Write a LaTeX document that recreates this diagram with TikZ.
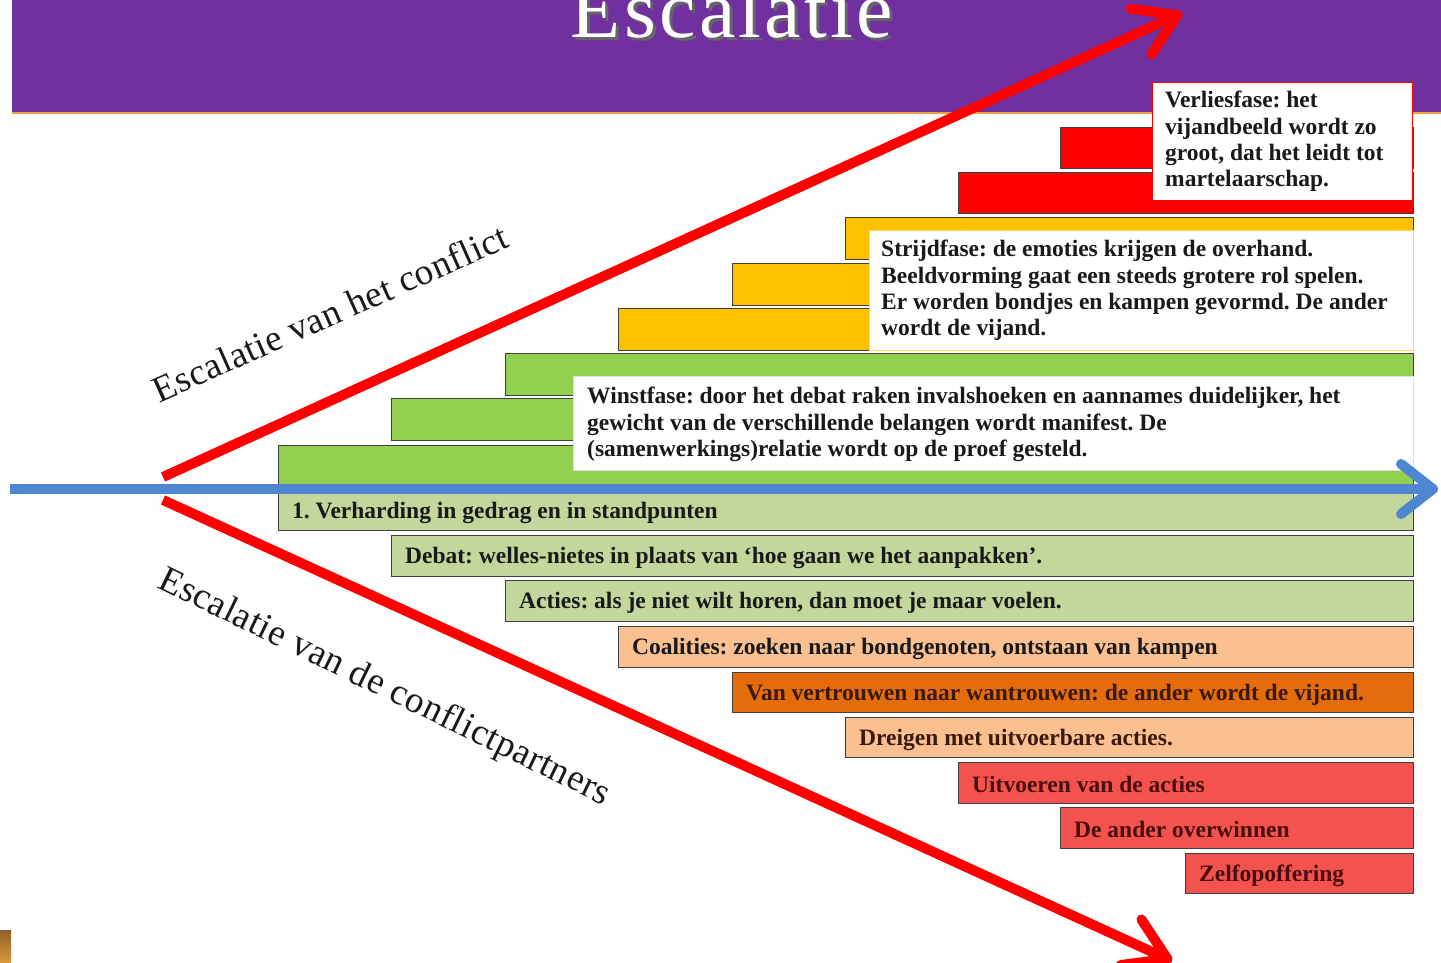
\documentclass[tikz,border=0pt]{standalone}
\usepackage{fontspec}
\setmainfont{Liberation Serif}
\newfontfamily\labelfont[LetterSpace=1.5]{Liberation Serif}
\newfontfamily\titlefont[LetterSpace=4]{Liberation Serif}
\usetikzlibrary{positioning, arrows.meta}
\frenchspacing

\definecolor{headpurple}{HTML}{7030A0}
\definecolor{headgold}{HTML}{E8A33C}
\definecolor{winst}{HTML}{92D050}
\definecolor{strijd}{HTML}{FFC000}
\definecolor{verlies}{HTML}{FF0000}
\definecolor{palegreen}{HTML}{C3D69B}
\definecolor{paleorange}{HTML}{FAC090}
\definecolor{deeporange}{HTML}{E46C0A}
\definecolor{salmon}{HTML}{F4524F}
\definecolor{axisblue}{HTML}{4F86D2}
\definecolor{darkbrown}{HTML}{3A1A0C}
\definecolor{darkmaroon}{HTML}{4A0E0E}

\tikzset{
  stage/.style={draw=black!75, line width=0.9pt, anchor=north west, inner sep=0pt, minimum height=41pt},
  stagetext/.style={font=\bfseries\fontsize{23.5}{26.3}\selectfont, inner sep=0pt, text=black!90},
  phasebox/.style={fill=white, line width=1pt, anchor=north west, inner sep=0pt},
  phasetext/.style={stagetext, align=left},
  redarrow/.style={draw=verlies, line width=10pt, -{Straight Barb[length=40pt, width=50pt, round]}},
  axisarrow/.style={draw=axisblue, line width=10pt, -{Straight Barb[length=32pt, width=50pt, round]}},
  slantlabel/.style={font=\labelfont\fontsize{37}{40}\selectfont, text=black!90, inner sep=0pt},
  titletext/.style={font=\titlefont\fontsize{82}{90}\selectfont, anchor=base, inner sep=0pt}
}

\begin{document}
\begin{tikzpicture}[x=1pt, y=-1pt]
\useasboundingbox (0,0) rectangle (1441,963);
\clip (0,0) rectangle (1441,963);

% header
\fill[headpurple] (12,0) rectangle (1441,113);
\draw[headgold, line width=2pt] (12,113) -- (1441,113);
\node[titletext, text=black!60] (titleshadow) at (735,41) {Escalatie};
\node[titletext, text=white] (title) at (732,38) {Escalatie};

% upper stairs
\node[stage, fill=winst, minimum width=1135pt, minimum height=44pt] (g1) at (278,445) {};
\node[stage, fill=winst, minimum width=1022pt, minimum height=42pt] (g2) at (391,398) {};
\node[stage, fill=winst, minimum width=908pt, minimum height=42pt] (g3) at (505,353) {};
\node[stage, fill=strijd, minimum width=795pt, minimum height=42pt] (y1) at (618,308) {};
\node[stage, fill=strijd, minimum width=681pt, minimum height=42pt] (y2) at (732,263) {};
\node[stage, fill=strijd, minimum width=568pt, minimum height=42pt] (y3) at (845,217) {};
\node[stage, fill=verlies, minimum width=455pt] (r1) at (958,172) {};
\node[stage, fill=verlies, minimum width=353pt] (r2) at (1060,127) {};

% phase boxes
\node[phasebox, draw=gray!25, minimum width=840pt, minimum height=94pt] (ww) at (573,376) {};
\node[phasebox, draw=strijd!60, minimum width=544pt, minimum height=120pt] (ws) at (869,230) {};
\node[phasebox, draw=verlies, minimum width=260pt, minimum height=118pt] (wv) at (1152,82) {};
\node[phasetext, below right=11pt and 14pt of ww.north west] (tw)
  {Winstfase: door het debat raken invalshoeken en aannames duidelijker, het\\
   gewicht van de verschillende belangen wordt manifest. De\\
   (samenwerkings)relatie wordt op de proef gesteld.};
\node[phasetext, below right=10pt and 12pt of ws.north west] (ts)
  {Strijdfase: de emoties krijgen de overhand.\\
   Beeldvorming gaat een steeds grotere rol spelen.\\
   Er worden bondjes en kampen gevormd. De ander\\
   wordt de vijand.};
\node[phasetext, below right=9pt and 13pt of wv.north west] (tv)
  {Verliesfase: het\\ vijandbeeld wordt zo\\ groot, dat het leidt tot\\ martelaarschap.};

% lower stairs
\node[stage, fill=palegreen, minimum width=1135pt, minimum height=42pt] (l1) at (278,488) {};
\node[stage, fill=palegreen, minimum width=1022pt] (l2) at (391,535) {};
\node[stage, fill=palegreen, minimum width=908pt] (l3) at (505,580) {};
\node[stage, fill=paleorange, minimum width=795pt] (l4) at (618,626) {};
\node[stage, fill=deeporange, minimum width=681pt, minimum height=40pt] (l5) at (732,672) {};
\node[stage, fill=paleorange, minimum width=568pt, minimum height=40pt] (l6) at (845,717) {};
\node[stage, fill=salmon, minimum width=455pt] (l7) at (958,762) {};
\node[stage, fill=salmon, minimum width=353pt] (l8) at (1060,807) {};
\node[stage, fill=salmon, minimum width=228pt, minimum height=40pt] (l9) at (1185,853) {};

\node[stagetext, right=14pt of l1.west, yshift=-3pt] (t1) {1. Verharding in gedrag en in standpunten};
\node[stagetext, right=14pt of l2.west, yshift=-2pt] (t2) {Debat: welles-nietes in plaats van ‘hoe gaan we het aanpakken’.};
\node[stagetext, right=14pt of l3.west, yshift=-2pt] (t3) {Acties: als je niet wilt horen, dan moet je maar voelen.};
\node[stagetext, right=14pt of l4.west, yshift=-2pt] (t4) {Coalities: zoeken naar bondgenoten, ontstaan van kampen};
\node[stagetext, right=14pt of l5.west, yshift=-2pt, text=darkbrown] (t5) {Van vertrouwen naar wantrouwen: de ander wordt de vijand.};
\node[stagetext, right=14pt of l6.west, yshift=-2pt, text=darkbrown] (t6) {Dreigen met uitvoerbare acties.};
\node[stagetext, right=14pt of l7.west, yshift=-2pt, text=darkmaroon] (t7) {Uitvoeren van de acties};
\node[stagetext, right=14pt of l8.west, yshift=-2pt, text=darkmaroon] (t8) {De ander overwinnen};
\node[stagetext, right=14pt of l9.west, yshift=-2pt, text=darkmaroon] (t9) {Zelfopoffering};

% axes
\coordinate (axisL) at (10,489);
\coordinate (axisR) at (1438,489);
\draw[axisarrow] (axisL) -- (axisR);
\coordinate (apexU) at (163,477);
\coordinate (tipU) at (1182,13);
\coordinate (apexL) at (163,500);
\coordinate (tipL) at (1172,961);
\draw[redarrow] (apexU) -- (tipU);
\draw[redarrow] (apexL) -- (tipL);

\node[slantlabel, rotate=24] (lblconflict) at (330,313) {Escalatie van het conflict};
\node[slantlabel, rotate=-26] (lblpartners) at (384,688) {Escalatie van de conflictpartners};

% corner
\shade[top color=headgold!60!black, bottom color=headgold!70!brown] (0,930) rectangle (11,963);
\end{tikzpicture}
\end{document}
